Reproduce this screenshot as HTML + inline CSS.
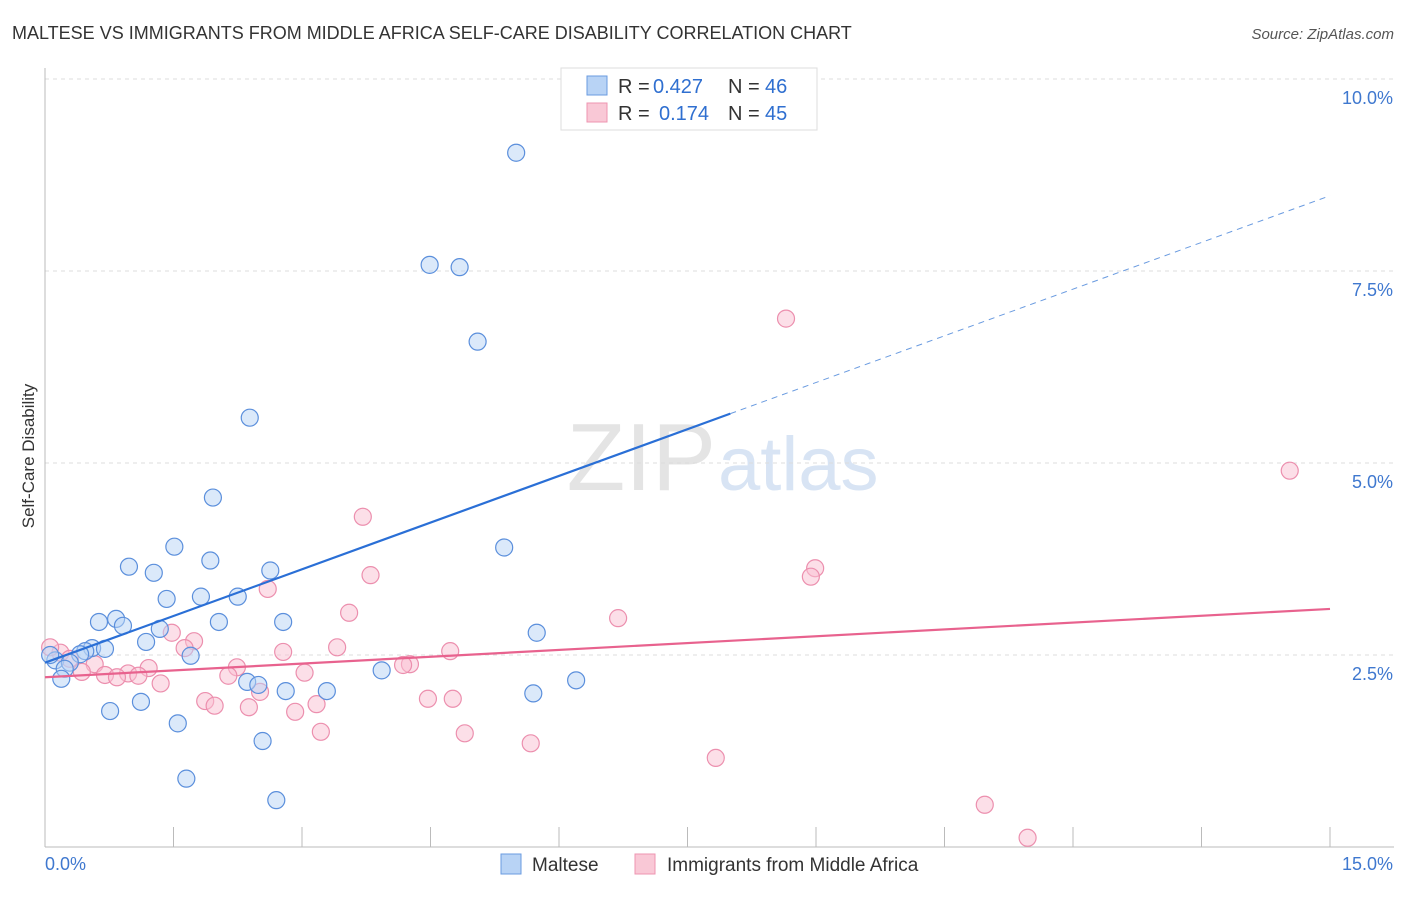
<!DOCTYPE html>
<html><head><meta charset="utf-8"><style>
body{margin:0;background:#fff;font-family:"Liberation Sans",sans-serif;}
svg text{font-family:"Liberation Sans",sans-serif;}
</style></head><body>
<svg id="chart" width="1406" height="892" xmlns="http://www.w3.org/2000/svg">
<text x="12" y="39" font-size="18" fill="#333">MALTESE VS IMMIGRANTS FROM MIDDLE AFRICA SELF-CARE DISABILITY CORRELATION CHART</text>
<text x="1394" y="39" font-size="15" fill="#555" text-anchor="end" font-style="italic">Source: ZipAtlas.com</text>
<text x="716" y="490" font-size="96" fill="#e4e4e4" text-anchor="end" font-family="Liberation Serif">ZIP</text>
<text x="718" y="490" font-size="76" fill="#d8e4f4">atlas</text>
<g id="grid"></g>
<g id="axes"></g>
<g id="marks"></g>
<text transform="translate(34,456) rotate(-90)" font-size="17" fill="#333" text-anchor="middle">Self-Care Disability</text>
<g>
<rect x="561" y="68" width="256" height="62" fill="#fff" stroke="#ddd"/>
<rect x="587" y="76" width="20" height="19" fill="#b8d3f5" stroke="#6a9be0"/>
<rect x="587" y="103" width="20" height="19" fill="#f9c8d6" stroke="#ee94b0"/>
<text x="618" y="93" font-size="20" fill="#333">R =</text>
<text x="653" y="93" font-size="20" fill="#2f6fd0">0.427</text>
<text x="728" y="93" font-size="20" fill="#333">N =</text>
<text x="765" y="93" font-size="20" fill="#2f6fd0">46</text>
<text x="618" y="120" font-size="20" fill="#333">R =</text>
<text x="659" y="120" font-size="20" fill="#2f6fd0">0.174</text>
<text x="728" y="120" font-size="20" fill="#333">N =</text>
<text x="765" y="120" font-size="20" fill="#2f6fd0">45</text>
</g>
<g>
<rect x="501" y="854" width="20" height="20" fill="#b8d3f5" stroke="#6a9be0"/>
<text x="532" y="871" font-size="19" fill="#333">Maltese</text>
<rect x="635" y="854" width="20" height="20" fill="#f9c8d6" stroke="#ee94b0"/>
<text x="667" y="871" font-size="19" fill="#333">Immigrants from Middle Africa</text>
</g>
</svg>
<script>
const yTicks=[2.5,5.0,7.5,10.0];
const yTickLabels=["2.5%","5.0%","7.5%","10.0%"];
const xTickCount=10;
const xLabels=["0.0%","15.0%"];
const blueX=[5.50,4.49,4.84,5.05,2.39,1.96,5.36,1.51,1.93,0.98,1.27,2.63,1.42,1.82,2.25,0.83,0.63,0.91,2.78,2.03,1.34,5.74,1.18,0.55,0.70,0.47,0.41,1.70,0.12,0.29,0.23,3.93,6.20,0.19,2.36,2.49,2.81,3.29,5.70,0.76,1.12,1.55,2.54,1.65,2.70,0.06];
const blueY=[9.04,7.58,7.55,6.58,5.59,4.55,3.90,3.91,3.73,3.65,3.57,3.60,3.23,3.26,3.26,2.97,2.93,2.88,2.93,2.93,2.84,2.79,2.67,2.59,2.58,2.55,2.51,2.49,2.43,2.40,2.32,2.30,2.17,2.19,2.15,2.11,2.03,2.03,2.00,1.77,1.89,1.61,1.38,0.89,0.61,2.50];
const pinkX=[8.65,14.53,3.71,3.80,8.99,8.94,2.60,3.55,6.69,1.48,1.74,3.41,1.63,2.78,4.73,0.18,0.58,4.26,4.18,2.24,1.21,0.43,3.03,0.97,0.70,0.84,1.09,2.14,1.35,2.51,1.87,1.98,4.47,4.76,3.17,2.38,2.92,3.22,4.90,5.67,7.83,10.97,11.47,0.06,0.29];
const pinkY=[6.88,4.90,4.30,3.54,3.63,3.52,3.36,3.05,2.98,2.79,2.68,2.60,2.59,2.54,2.55,2.53,2.38,2.38,2.37,2.34,2.33,2.28,2.27,2.26,2.24,2.21,2.23,2.23,2.13,2.02,1.90,1.84,1.93,1.93,1.86,1.82,1.76,1.50,1.48,1.35,1.16,0.55,0.12,2.60,2.45];
const blueLine=[2.40,8.48];
const pinkLine=[2.21,3.10];
const blueSolidEnd=8.0;

const X0=45,X1=1330,Y0=847,PX=(X1-X0)/15,PY=76.8;
const sx=v=>X0+v*PX, sy=v=>Y0-v*PY;
const NS="http://www.w3.org/2000/svg";
function mk(tag,attrs,parent){const e=document.createElementNS(NS,tag);for(const k in attrs)e.setAttribute(k,attrs[k]);parent.appendChild(e);return e;}
const grid=document.getElementById('grid'),axes=document.getElementById('axes'),marks=document.getElementById('marks');
yTicks.forEach((t,i)=>{
  const l=mk('line',{x1:X0,x2:1394,y1:sy(t),y2:sy(t),stroke:'#ddd','stroke-dasharray':'4,4'},grid);
  
  
  const tx=mk('text',{x:1393,y:sy(t)+25,'font-size':18,fill:'#3f78cf','text-anchor':'end'},axes);
  tx.textContent=yTickLabels[i];
  
  
});
const ax=mk('line',{x1:X0,x2:X0,y1:68,y2:Y0,stroke:'#bbb'},axes);


const bx=mk('line',{x1:X0,x2:1394,y1:Y0,y2:Y0,stroke:'#bbb'},axes);


for(let i=1;i<=xTickCount;i++){
  const v=i*15/xTickCount;
  const t=mk('line',{x1:sx(v),x2:sx(v),y1:Y0-20,y2:Y0,stroke:'#bbb'},axes);
  
  
}
const xl0=mk('text',{x:45,y:870,'font-size':18,fill:'#3f78cf'},axes);xl0.textContent=xLabels[0];


const xl1=mk('text',{x:1393,y:870,'font-size':18,fill:'#3f78cf','text-anchor':'end'},axes);xl1.textContent=xLabels[1];


function pts(xs,ys,fill,stroke,name){xs.forEach((x,i)=>{
  const c=mk('circle',{cx:sx(x),cy:sy(ys[i]),r:8.5,fill:fill,'fill-opacity':0.5,stroke:stroke,'stroke-width':1.2},marks);
  
  
});}
pts(pinkX,pinkY,'#f9c0d2','#ec8fae','immigrants-point');
pts(blueX,blueY,'#b8d3f5','#5b8fdc','maltese-point');
const by=v=>blueLine[0]+(blueLine[1]-blueLine[0])*v/15;
const l1=mk('line',{x1:sx(0),y1:sy(by(0)),x2:sx(blueSolidEnd),y2:sy(by(blueSolidEnd)),stroke:'#2a6fd6','stroke-width':2.2},marks);


const l2=mk('line',{x1:sx(blueSolidEnd),y1:sy(by(blueSolidEnd)),x2:sx(15),y2:sy(by(15)),stroke:'#6a9be0','stroke-width':1,'stroke-dasharray':'6,5'},marks);


const l3=mk('line',{x1:sx(0),y1:sy(pinkLine[0]),x2:sx(15),y2:sy(pinkLine[1]),stroke:'#e8628e','stroke-width':2.2},marks);


</script>
</body></html>
